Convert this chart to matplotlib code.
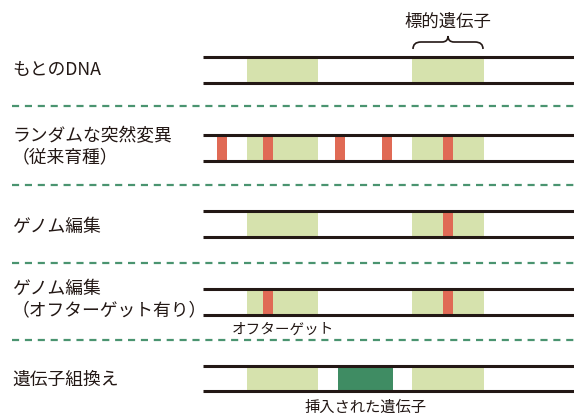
import matplotlib
matplotlib.use("Agg")
import matplotlib.pyplot as plt
from matplotlib.path import Path
from matplotlib.patches import PathPatch, Rectangle

plt.rcParams['font.family'] = ['Noto Sans CJK JP', 'DejaVu Sans']

### Data (positions along the DNA strand, 0 = left end of the strand)
row_labels = ["もとのDNA",
              "ランダムな突然変異\n（従来育種）",
              "ゲノム編集",
              "ゲノム編集\n（オフターゲット有り）",
              "遺伝子組換え"]
genes = [(44, 115), (209, 281)]                       # green gene regions
mutations = [[],                                      # red point mutations per row
             [14, 60, 132, 179, 240],
             [240],
             [60, 240],
             []]
inserted = [None, None, None, None, (135, 190)]       # inserted gene per row
mut_width = 10
strand_len = 371

# colours
c_line = '#231815'
c_gene = '#d6e2ad'
c_mut = '#e06a55'
c_ins = '#3f8c63'
c_dash = '#4a9470'

fig = plt.figure(figsize=(5.74, 4.14), dpi=100)
ax = fig.add_axes([0, 0, 1, 1])
ax.set_xlim(0, 574)
ax.set_ylim(414, 0)
ax.axis('off')

x0 = 203            # strand start in pixels
row_y = [71, 148.5, 225, 302.5, 379.5]
label_y = [70, 146.5, 227, 299.5, 380]
half = 13

for i, label in enumerate(row_labels):
    yc = row_y[i]
    for g0, g1 in genes:
        ax.add_patch(Rectangle((x0 + g0, yc - half), g1 - g0, 2 * half,
                               color=c_gene, lw=0, zorder=1))
    if inserted[i] is not None:
        s0, s1 = inserted[i]
        ax.add_patch(Rectangle((x0 + s0, yc - half), s1 - s0, 2 * half,
                               color=c_ins, lw=0, zorder=2))
    for m in mutations[i]:
        ax.add_patch(Rectangle((x0 + m, yc - half), mut_width, 2 * half,
                               color=c_mut, lw=0, zorder=2))
    for yy in (yc - half, yc + half):
        ax.plot([x0, x0 + strand_len], [yy, yy], color=c_line, lw=2.2,
                solid_capstyle='butt', zorder=3)
    ax.text(12, label_y[i], label, ha='left', va='center', fontsize=12.8,
            color='#231815', linespacing=1.2)

# dashed separators
for yy in [107, 186, 264, 341]:
    ax.plot([12, 574], [yy, yy], color=c_dash, lw=1.6,
            dashes=(3.2, 2.6), zorder=1)

# brace over the target gene
b0, b1 = x0 + genes[1][0] + 1, x0 + genes[1][1] - 1
bm = (b0 + b1) / 2
yb, yh, yp = 50, 43, 37
verts = [(b0, yb), (b0, yh), (b0 + 8, yh),
         (bm - 6, yh), (bm, yh), (bm, yp),
         (bm, yh), (bm + 6, yh),
         (b1 - 8, yh), (b1, yh), (b1, yb)]
codes = [Path.MOVETO, Path.CURVE3, Path.CURVE3,
         Path.LINETO, Path.CURVE3, Path.CURVE3,
         Path.CURVE3, Path.CURVE3,
         Path.LINETO, Path.CURVE3, Path.CURVE3]
ax.add_patch(PathPatch(Path(verts, codes), fill=False, edgecolor=c_line, lw=1.2))
ax.text(bm, 22, "標的遺伝子", ha='center', va='center', fontsize=12.5, color='#231815')

# small annotations
ax.text(232, 330, "オフターゲット", ha='left', va='center', fontsize=10.5, color='#231815')
ax.text(x0 + (inserted[4][0] + inserted[4][1]) / 2, 407, "挿入された遺伝子",
        ha='center', va='center', fontsize=11, color='#231815')

fig.savefig('out.png', dpi=100)
plt.close()
